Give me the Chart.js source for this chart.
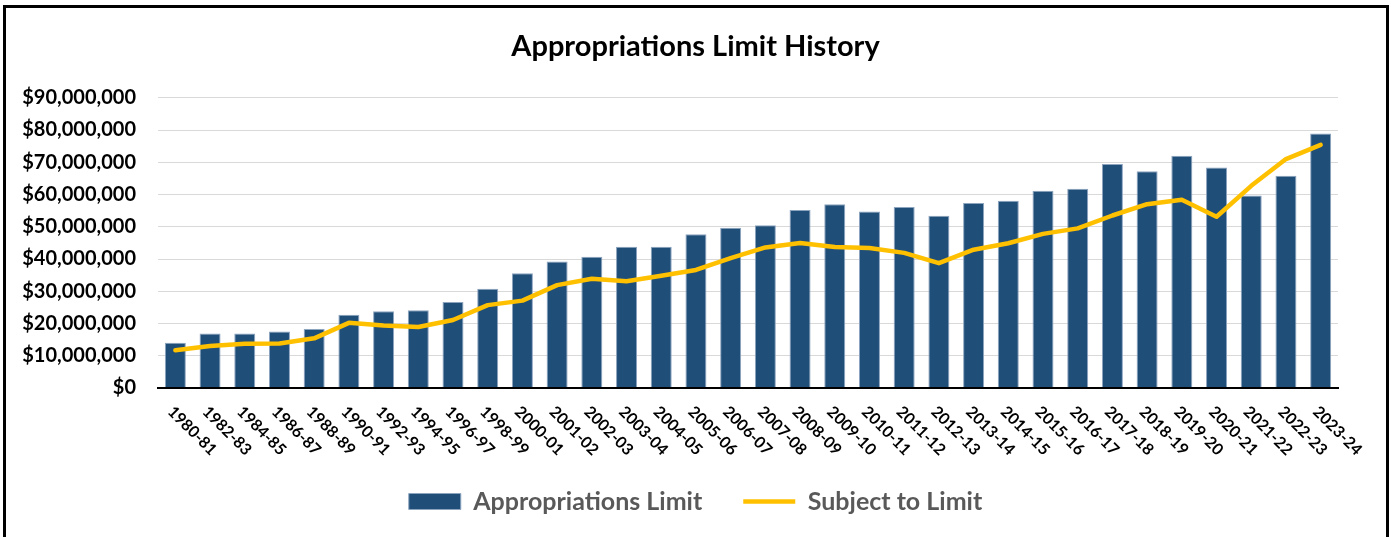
<!DOCTYPE html>
<html>
<head>
<meta charset="utf-8">
<script src="https://cdn.jsdelivr.net/npm/chart.js@4.4.1/dist/chart.umd.min.js"></script>
<style>
  html, body { margin: 0; padding: 0; background: #fff; overflow: hidden; }
  #wrap { position: relative; width: 1391px; height: 537px; }
  #frame { position: absolute; left: 3px; top: 5px; width: 1386px; height: 600px; border: 3px solid #000; box-sizing: border-box; pointer-events: none; }
  canvas { position: absolute; left: 0; top: 0; }
</style>
</head>
<body>
<div id="wrap">
  <canvas id="chart" width="1391" height="537"></canvas>
  <div id="frame"></div>
</div>
<script>
const FONT = "Lato";

const fiscalYears = [
  "1980-81", "1982-83", "1984-85", "1986-87", "1988-89", "1990-91", "1992-93", "1994-95",
  "1996-97", "1998-99", "2000-01", "2001-02", "2002-03", "2003-04", "2004-05", "2005-06",
  "2006-07", "2007-08", "2008-09", "2009-10", "2010-11", "2011-12", "2012-13", "2013-14",
  "2014-15", "2015-16", "2016-17", "2017-18", "2018-19", "2019-20", "2020-21", "2021-22",
  "2022-23", "2023-24"
];

// dollars
const appropriationsLimit = [
  14000000, 16900000, 16900000, 17500000, 18300000, 22700000, 23800000, 24100000,
  26700000, 30800000, 35600000, 39200000, 40700000, 43800000, 43800000, 47700000,
  49700000, 50500000, 55200000, 57000000, 54700000, 56100000, 53400000, 57400000,
  58100000, 61200000, 61800000, 69500000, 67200000, 72000000, 68400000, 59700000,
  65800000, 78900000
];

// dollars
const subjectToLimit = [
  11700000, 13000000, 13700000, 13800000, 15400000, 20200000, 19400000, 18900000,
  21100000, 25700000, 27100000, 31900000, 33900000, 33100000, 34800000, 36600000,
  40300000, 43600000, 45000000, 43700000, 43400000, 41900000, 38700000, 42900000,
  44900000, 47800000, 49500000, 53500000, 57000000, 58400000, 53100000, 62700000,
  71000000, 75400000
];

const yMax = 90000000;
const yStep = 10000000;

const fmtDollars = (v) => "$" + Number(v).toLocaleString("en-US");

// Excel-style labels: rotated 45deg clockwise, starting at the tick
const rotatedLabels = {
  id: "rotatedLabels",
  afterDraw(chart) {
    const { ctx } = chart;
    const x = chart.scales.x;
    ctx.save();
    ctx.font = `bold 16px ${FONT}`;
    ctx.fillStyle = "#000";
    ctx.textAlign = "left";
    ctx.textBaseline = "middle";
    fiscalYears.forEach((label, i) => {
      const px = x.getPixelForValue(i);
      ctx.save();
      ctx.translate(px - 5, x.top + 21);
      ctx.rotate(Math.PI / 4);
      ctx.fillText(label, 0, 0);
      ctx.restore();
    });
    ctx.restore();
  }
};

new Chart(document.getElementById("chart").getContext("2d"), {
  type: "bar",
  data: {
    labels: fiscalYears,
    datasets: [
      {
        label: "Appropriations Limit",
        data: appropriationsLimit,
        backgroundColor: "#1F4E79",
        borderColor: "#8DA4BF",
        borderWidth: 1,
        barPercentage: 0.605,
        categoryPercentage: 1,
        pointStyle: "rect",
        order: 1
      },
      {
        type: "line",
        label: "Subject to Limit",
        data: subjectToLimit,
        borderColor: "#FFC000",
        backgroundColor: "#FFC000",
        borderWidth: 4.5,
        borderCapStyle: "round",
        borderJoinStyle: "round",
        pointRadius: 0,
        pointStyle: "line",
        tension: 0,
        order: 0
      }
    ]
  },
  options: {
    responsive: false,
    animation: false,
    layout: { padding: { top: 0, bottom: 13, left: 0, right: 0 } },
    plugins: {
      tooltip: { enabled: false },
      title: {
        display: true,
        text: "Appropriations Limit History",
        color: "#000",
        font: { family: FONT, size: 29, weight: "bold" },
        padding: { top: 29, bottom: 34 }
      },
      legend: {
        position: "bottom",
        labels: {
          usePointStyle: true,
          pointStyleWidth: 52,
          boxHeight: 16,
          padding: 41,
          color: "#595959",
          font: { family: FONT, size: 25, weight: "bold" },
          sort: (a, b) => a.datasetIndex - b.datasetIndex
        }
      }
    },
    scales: {
      x: {
        grid: { display: false },
        ticks: { display: false },
        border: { display: true, color: "#000", width: 2, z: 1 },
        afterFit: (s) => { s.height = 60; }
      },
      y: {
        min: 0,
        max: yMax,
        grid: { color: "#D9D9D9", lineWidth: 1, drawTicks: false },
        border: { display: false },
        ticks: {
          stepSize: yStep,
          padding: 22,
          color: "#000",
          font: { family: FONT, size: 20, weight: "bold" },
          callback: (v) => fmtDollars(v)
        },
        afterFit: (s) => { s.width = 158; }
      },
      y2: {
        position: "right",
        display: true,
        grid: { display: false },
        ticks: { display: false },
        border: { display: false },
        afterFit: (s) => { s.width = 53; }
      }
    }
  },
  plugins: [rotatedLabels]
});
</script>
</body>
</html>
